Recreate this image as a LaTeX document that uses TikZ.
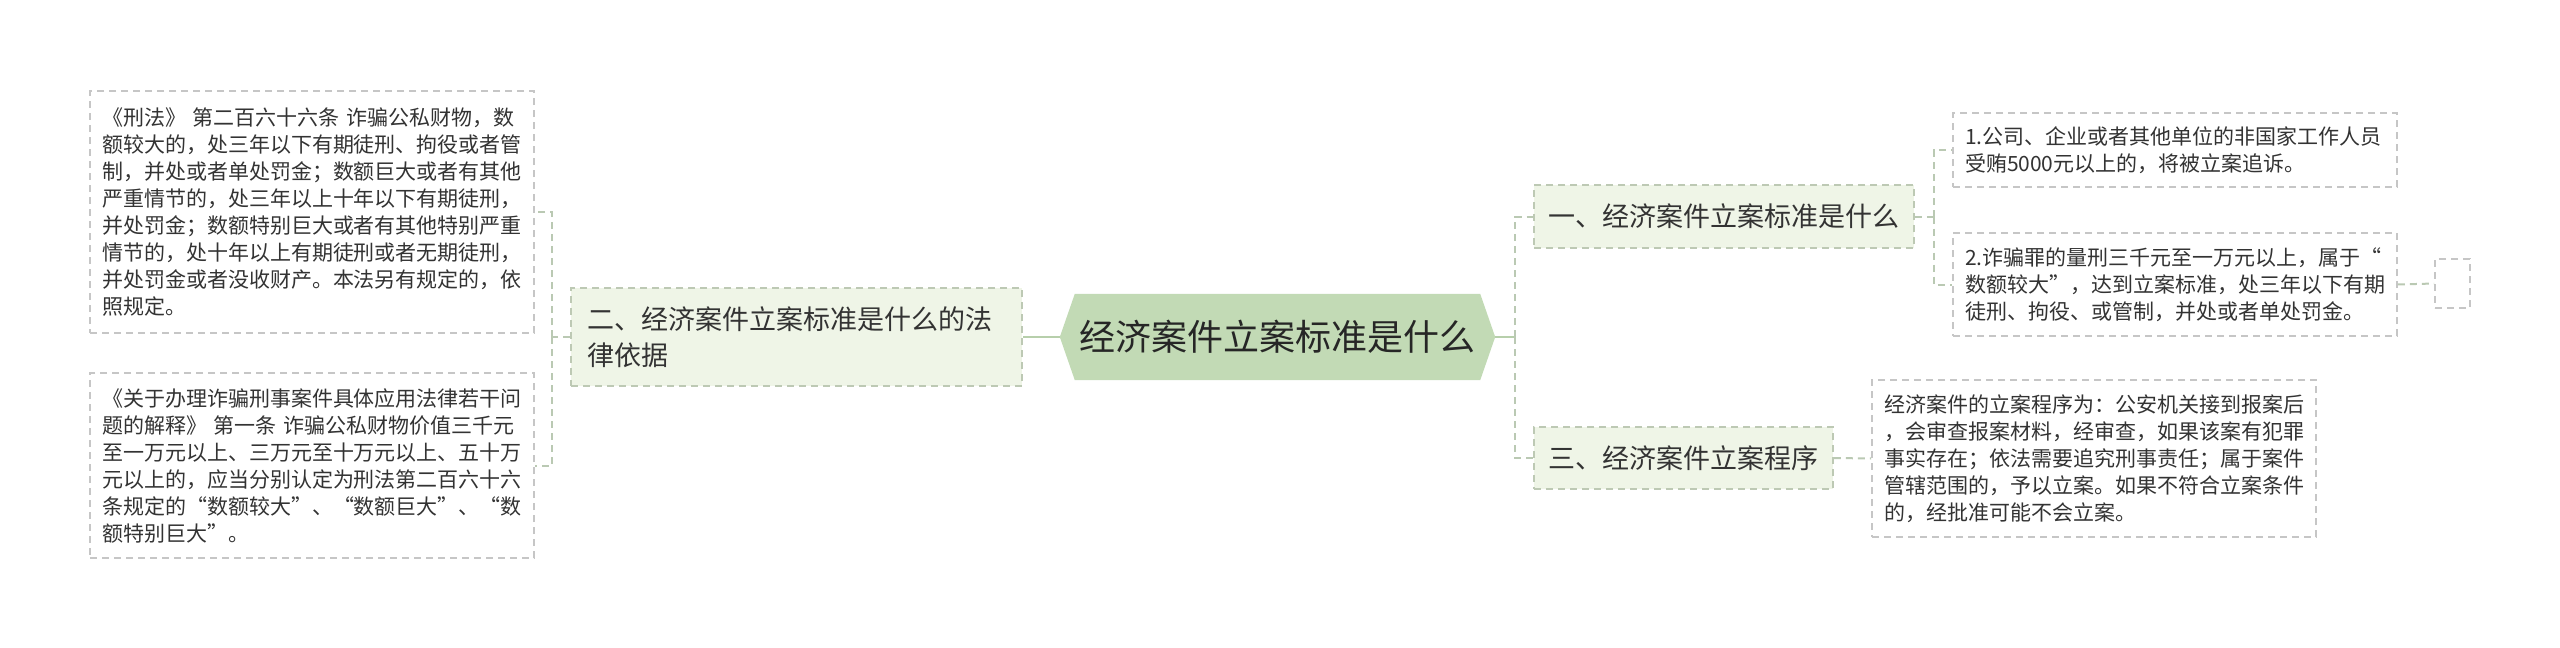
\documentclass[tikz,border=0pt]{standalone}
\usepackage{fontspec}
\setmainfont{Noto Sans CJK SC}
\usetikzlibrary{calc,backgrounds}
\definecolor{rootfill}{HTML}{C2DAB5}
\definecolor{topicfill}{HTML}{EFF5E7}
\definecolor{topicborder}{HTML}{BDC9B4}
\definecolor{detailborder}{HTML}{C6C6C6}
\definecolor{dashcon}{HTML}{BAC9B3}
\definecolor{solidcon}{HTML}{B7CFAB}
\definecolor{textcol}{HTML}{333333}
\begin{document}
\begin{tikzpicture}[x=1pt,y=-1pt,
  detail/.style={draw=detailborder, dash pattern=on 7pt off 5pt, line width=1.6pt,
    fill=white, text width=420pt, align=left, inner xsep=12pt, inner ysep=0pt,
    font=\fontsize{21}{27}\selectfont, text=textcol},
  topic/.style={draw=topicborder, dash pattern=on 7pt off 5pt, line width=1.6pt,
    fill=topicfill, inner sep=0pt, font=\fontsize{27}{36}\selectfont, text=textcol},
  rootnode/.style={draw=none, inner sep=0pt, minimum width=405pt, minimum height=86pt,
    font=\fontsize{36}{40}\selectfont, text=black!85},
  dcon/.style={draw=dashcon, dash pattern=on 7pt off 5pt, line width=2pt},
  scon/.style={draw=solidcon, line width=2.4pt}
]
\useasboundingbox (0,0) rectangle (2560,648);

% root
\node[rootnode] (root) at (1277.5,337) {经济案件立案标准是什么};
\coordinate (rootL) at ($(root.west)+(-15,0)$);
\coordinate (rootR) at ($(root.east)+(15,0)$);
\begin{pgfonlayer}{background}
\fill[rootfill] (root.north west) -- (root.north east) -- (rootR) -- (root.south east)
  -- (root.south west) -- (rootL) -- cycle;
\end{pgfonlayer}

% topics
\node[topic, text width=419pt, inner xsep=16pt, minimum height=98pt, align=left] (er) at (796.5,337)
  {二、经济案件立案标准是什么的法\\律依据};
\node[topic, minimum width=380pt, minimum height=63pt] (yi) at (1724,216.5)
  {一、经济案件立案标准是什么};
\node[topic, minimum width=299pt, minimum height=62pt] (san) at (1683.5,458)
  {三、经济案件立案程序};

% details left
\node[detail, minimum height=242pt] (xf) at (312,212)
  {《刑法》 第二百六十六条 诈骗公私财物，数\\
   额较大的，处三年以下有期徒刑、拘役或者管\\
   制，并处或者单处罚金；数额巨大或者有其他\\
   严重情节的，处三年以上十年以下有期徒刑，\\
   并处罚金；数额特别巨大或者有其他特别严重\\
   情节的，处十年以上有期徒刑或者无期徒刑，\\
   并处罚金或者没收财产。本法另有规定的，依\\
   照规定。};
\node[detail, minimum height=185pt] (js) at (312,465.5)
  {《关于办理诈骗刑事案件具体应用法律若干问\\
   题的解释》 第一条 诈骗公私财物价值三千元\\
   至一万元以上、三万元至十万元以上、五十万\\
   元以上的，应当分别认定为刑法第二百六十六\\
   条规定的“数额较大”、“数额巨大”、“数\\
   额特别巨大”。};

% details right
\node[detail, minimum height=74pt] (d1) at (2175,150)
  {1.公司、企业或者其他单位的非国家工作人员\\
   受贿5000元以上的，将被立案追诉。};
\node[detail, minimum height=103pt] (d2) at (2175,284.5)
  {2.诈骗罪的量刑三千元至一万元以上，属于“\\
   数额较大”，达到立案标准，处三年以下有期\\
   徒刑、拘役、或管制，并处或者单处罚金。};
\node[detail, minimum height=157pt] (d3) at (2094,458.5)
  {经济案件的立案程序为：公安机关接到报案后\\
   ，会审查报案材料，经审查，如果该案有犯罪\\
   事实存在；依法需要追究刑事责任；属于案件\\
   管辖范围的，予以立案。如果不符合立案条件\\
   的，经批准可能不会立案。};
\node[draw=detailborder, dash pattern=on 7pt off 5pt, line width=1.6pt, fill=white,
  inner sep=0pt, minimum width=35pt, minimum height=49pt] (empty) at (2452.5,283.5) {};

% connectors
\draw[scon] (rootL) -- (er.east);
\coordinate (jL) at ($(er.west)+(-18,0)$);
\draw[dcon] (er.west) -- (jL);
\draw[dcon] (jL) |- (xf.east);
\draw[dcon] (jL) |- (js.east);

\coordinate (jR) at ($(rootR)+(20,0)$);
\draw[scon] (rootR) -- (jR);
\draw[dcon] (jR) |- (yi.west);
\draw[dcon] (jR) |- (san.west);

\coordinate (j1) at ($(yi.east)+(19,0)$);
\draw[dcon] (yi.east) -- (j1);
\draw[dcon] (j1) |- (d1.west);
\draw[dcon] (j1) |- (d2.west);

\draw[dcon] (d2.east) -- (empty.west);
\draw[dcon] (san.east) -- (d3.west);
\end{tikzpicture}
\end{document}
